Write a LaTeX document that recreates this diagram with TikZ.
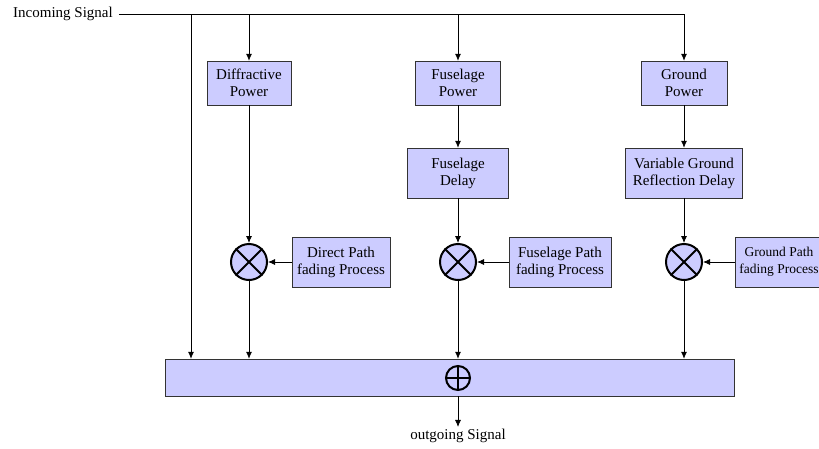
\documentclass[tikz,border=0pt]{standalone}
\usepackage{fontspec}
\setmainfont{Liberation Serif}
\usetikzlibrary{arrows.meta}
\definecolor{boxfill}{RGB}{204,204,255}
\begin{document}
\begin{tikzpicture}
  [x=1pt,y=-1pt,every node/.style={font=\fontsize{15}{17}\selectfont,align=center,inner sep=2pt}]
  \tikzstyle{block} = [draw=black!80,fill=boxfill,shape=rectangle,minimum height=44]
  \tikzstyle{mult} = [draw,line width=2pt,fill=boxfill,shape=circle,minimum size=36,inner sep=0]
  \tikzstyle{arr} = [-{Latex[length=7pt,width=6pt]},line width=0.8pt]
  \useasboundingbox (0,0) rectangle (819,448);
  \node[inner sep=6pt] (in) at (63,14) {Incoming Signal};
  \coordinate (t0) at (191,14);
  \node[block,minimum width=84] (dp) at (249,83) {Diffractive\\Power};
  \node[block,minimum width=85] (fp) at (458,83) {Fuselage\\Power};
  \node[block,minimum width=86] (gp) at (684,83) {Ground\\Power};
  \node[block,minimum width=101,minimum height=50] (fd) at (458,173) {Fuselage\\Delay};
  \node[block,minimum width=117,minimum height=50] (gd) at (684,173) {Variable Ground\\Reflection Delay};
  \node[mult] (m1) at (249,262) {};
  \node[mult] (m2) at (458,262) {};
  \node[mult] (m3) at (684,262) {};
  \node[block,minimum width=98,minimum height=50] (f1) at (341,262) {Direct Path\\fading Process};
  \node[block,minimum width=102,minimum height=50] (f2) at (560,262) {Fuselage Path\\fading Process};
  \node[block,minimum width=88,minimum height=50,font=\fontsize{13.5}{17}\selectfont] (f3) at (779,262) {Ground Path\\fading Process};
  \node[block,minimum width=569,minimum height=37] (bar) at (449.5,377.5) {};
  \node[mult,minimum size=24] (sum) at (458,378) {};
  \node (out) at (458,436) {outgoing Signal};

\draw[line width=0.8pt] (in.east) -- (gp |- in.east);
\foreach \m in {m1,m2,m3}
   \draw[line width=2pt] (\m.north west) -- (\m.south east) (\m.north east) -- (\m.south west);
\draw[line width=2pt] (sum.north) -- (sum.south) (sum.west) -- (sum.east);
\foreach \n in {dp,fp,gp}
   \draw[arr] (\n |- in.east) -- (\n);
\foreach \source /\dest in {dp/m1,fp/fd,fd/m2,gp/gd,gd/m3,f1/m1,f2/m2,f3/m3}
   \draw[arr] (\source) -- (\dest);
\foreach \n in {t0,m1,m2,m3}
   \draw[arr] (\n) -- (\n |- bar.north);
\draw[arr] (out |- bar.south) -- (out.north);

\end{tikzpicture}
\end{document}
